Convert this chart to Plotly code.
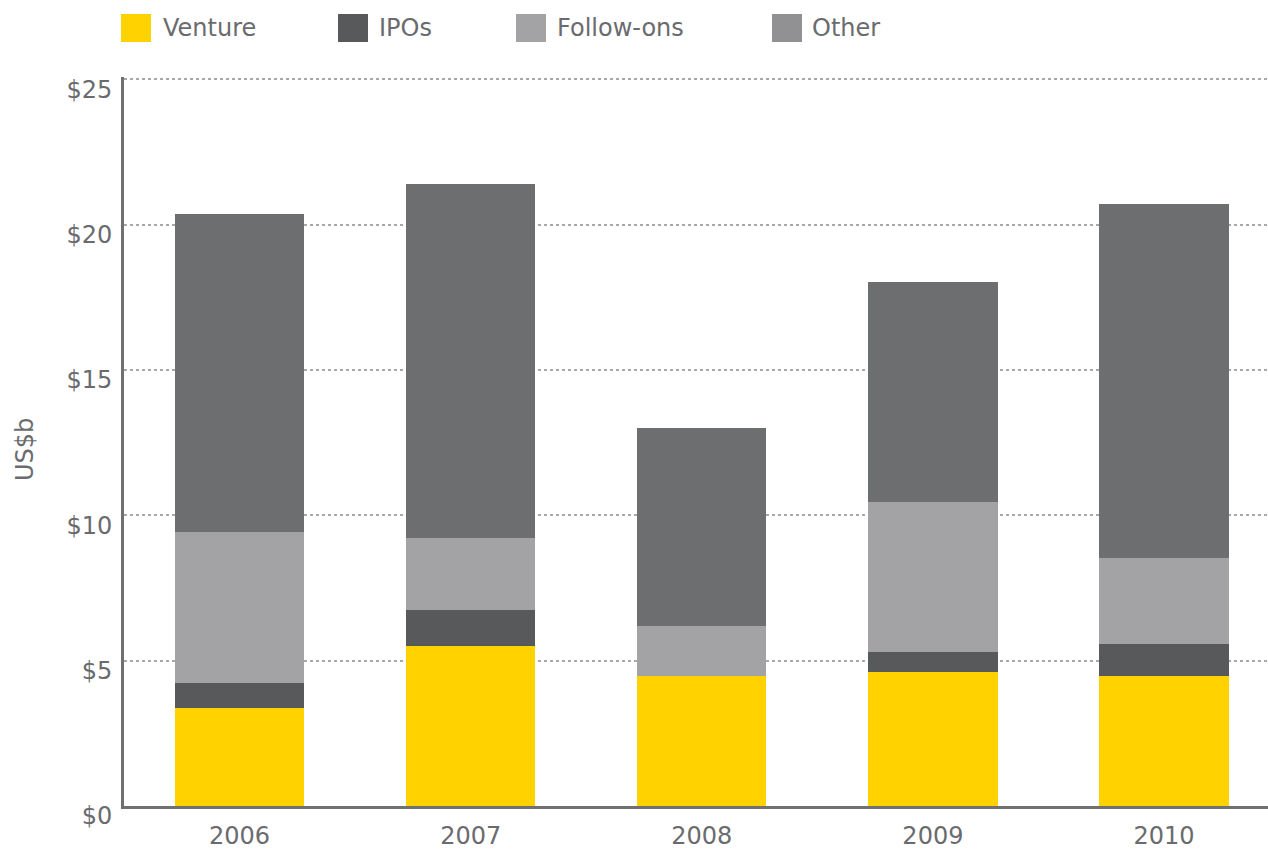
import plotly.graph_objects as go

years = ["2006", "2007", "2008", "2009", "2010"]
venture = [3.37, 5.50, 4.47, 4.61, 4.47]
ipos = [0.86, 1.24, 0.0, 0.69, 1.10]
follow_ons = [5.19, 2.48, 1.72, 5.15, 2.96]
other = [10.94, 12.17, 6.81, 7.57, 12.17]

series_names = ["Venture", "IPOs", "Follow-ons", "Other"]
bar_colors = ["#FFD200", "#58595B", "#A3A3A6", "#6D6E70"]
legend_colors = ["#FFD200", "#58595B", "#A3A3A6", "#919194"]
y_ticks = [0, 5, 10, 15, 20, 25]
y_tick_text = ["$0", "$5", "$10", "$15", "$20", "$25"]

W, H = 1268, 850
L, R, T, B = 124, 0, 77, 44
FONT = "DejaVu Sans"
TXT = "#6A6B6E"
Y_MAX = 25.08

fig = go.Figure()
for name, vals, col in zip(series_names, [venture, ipos, follow_ons, other], bar_colors):
    fig.add_trace(go.Bar(x=years, y=vals, name=name, marker=dict(color=col, line=dict(width=0)),
                         showlegend=False))

pw = W - L - R
ph = H - T - B
def px_x(px):
    return (px - L) / pw
def px_y(py):
    return (H - B - py) / ph

sw_x = [121, 338, 516, 772]
txt_x = [161, 377, 555, 810]
shapes = []
annotations = []
for i, name in enumerate(series_names):
    shapes.append(dict(type="rect", xref="paper", yref="paper",
                       x0=px_x(sw_x[i]), x1=px_x(sw_x[i] + 30),
                       y0=px_y(42), y1=px_y(14),
                       fillcolor=legend_colors[i], line=dict(width=0), layer="above"))
    annotations.append(dict(text=name, xref="paper", yref="paper",
                            x=px_x(txt_x[i]), y=px_y(28), xanchor="left", yanchor="middle",
                            showarrow=False, font=dict(family=FONT, size=24, color=TXT)))

annotations.append(dict(text="US$b", xref="paper", yref="paper", x=px_x(25), y=px_y(450),
                        xanchor="center", yanchor="middle", textangle=-90, showarrow=False,
                        font=dict(family=FONT, size=24, color=TXT)))

fig.update_layout(
    width=W, height=H,
    margin=dict(l=L, r=R, t=T, b=B, pad=0, autoexpand=False),
    barmode="stack",
    bargap=0.44,
    plot_bgcolor="white", paper_bgcolor="white",
    shapes=shapes, annotations=annotations,
    showlegend=False,
    font=dict(family=FONT, size=24, color=TXT),
)
fig.update_xaxes(
    type="category", range=[-0.5, 4.45], automargin=False,
    showline=True, linecolor="#707072", linewidth=3,
    showgrid=False, ticks="", ticklabelstandoff=6,
    tickfont=dict(family=FONT, size=24, color=TXT),
)
fig.update_yaxes(
    range=[0, Y_MAX], tickvals=y_ticks, ticktext=y_tick_text, automargin=False,
    showline=True, linecolor="#707072", linewidth=3,
    showgrid=True, gridcolor="#A8A8A8", gridwidth=1.5, griddash="dot",
    zeroline=False, ticks="", ticklabelstandoff=4, ticklabelshift=10,
    tickfont=dict(family=FONT, size=24, color=TXT),
)

fig.write_html("out.html", config={"displayModeBar": False},
               post_script="document.body.style.margin='0';")
